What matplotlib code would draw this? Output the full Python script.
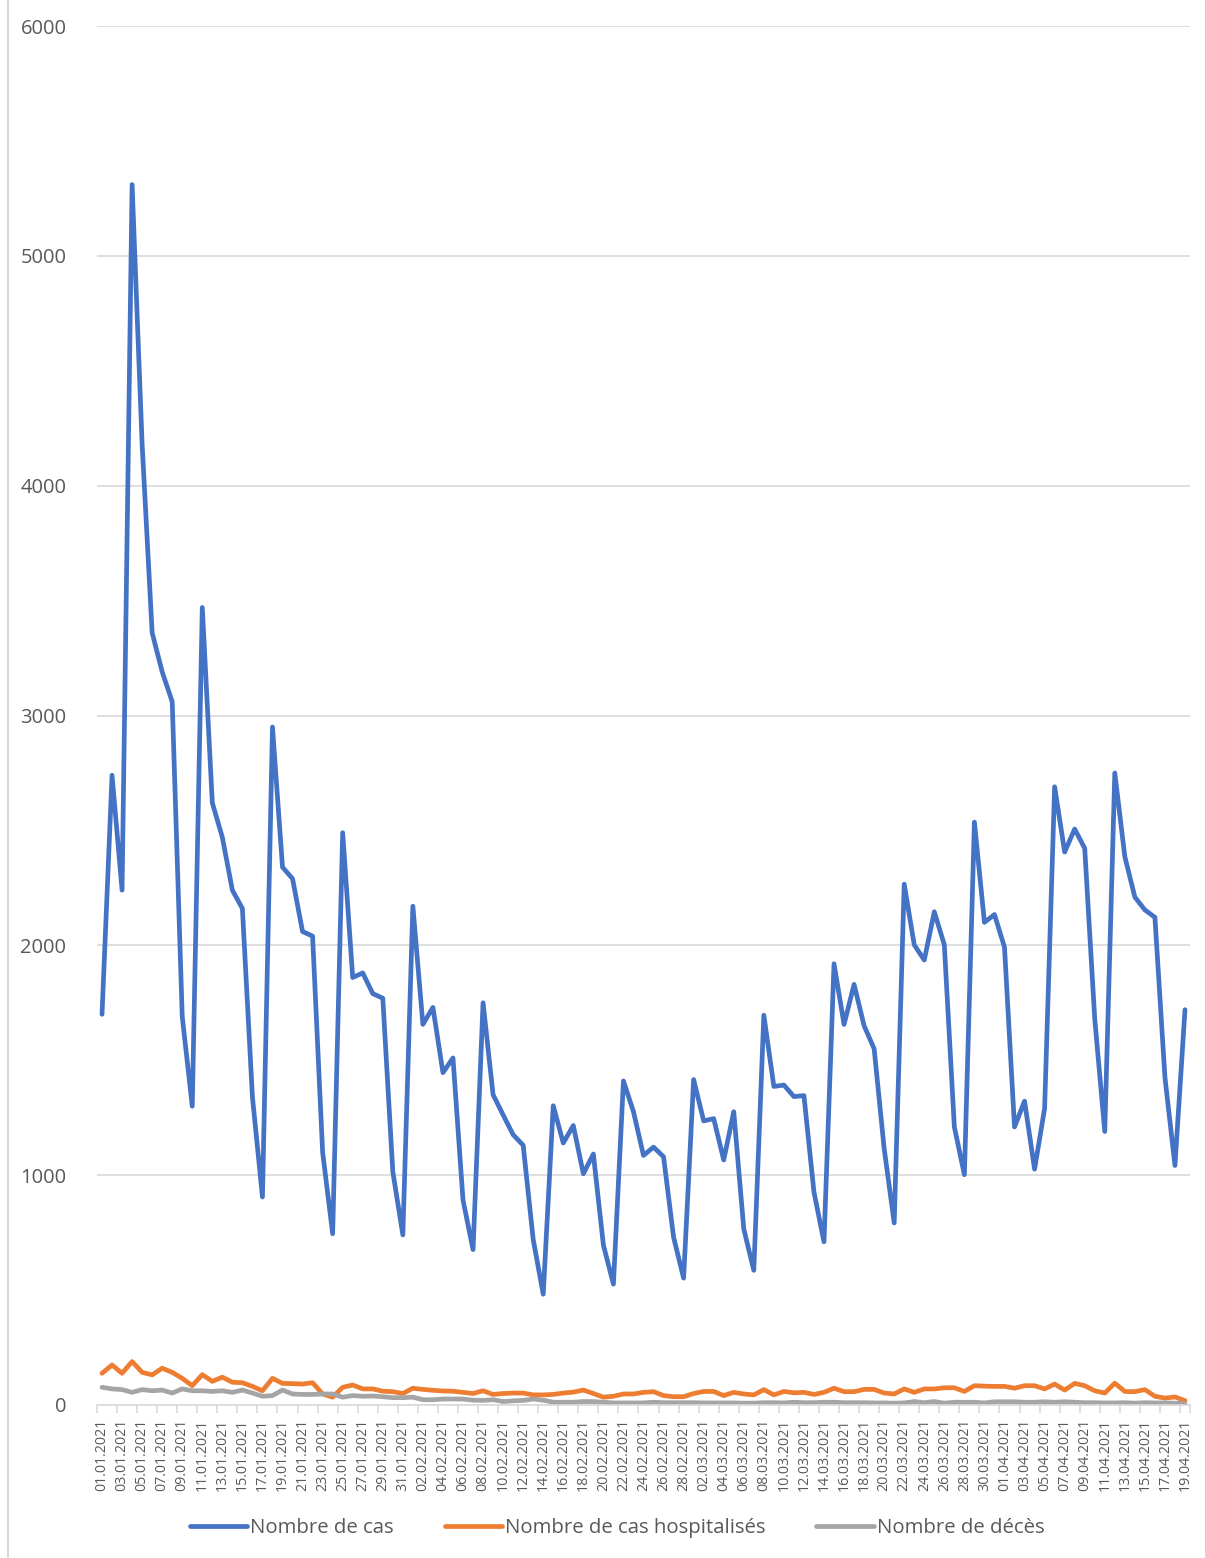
import pandas as pd
import matplotlib.pyplot as plt
from matplotlib.lines import Line2D

plt.rcParams['font.family'] = ['Open Sans', 'DejaVu Sans']

DATES = pd.date_range("2021-01-01", "2021-04-19", freq="D").strftime("%d.%m.%Y").tolist()

CAS = [
    1700, 2740, 2240, 5310, 4180, 3360, 3190, 3060, 1690, 1300,
    3470, 2620, 2470, 2240, 2160, 1340, 905, 2950, 2340, 2290,
    2060, 2040, 1100, 745, 2490, 1860, 1880, 1790, 1770, 1015,
    740, 2170, 1656, 1730, 1446, 1510, 892, 676, 1750, 1350,
    1262, 1176, 1130, 720, 482, 1302, 1140, 1216, 1006, 1092,
    696, 526, 1410, 1276, 1086, 1122, 1080, 730, 552, 1416,
    1236, 1246, 1066, 1276, 766, 586, 1696, 1386, 1392, 1342,
    1346, 926, 710, 1920, 1656, 1830, 1650, 1550, 1116, 792,
    2266, 2002, 1936, 2146, 2002, 1210, 1002, 2536, 2100, 2134,
    1992, 1210, 1322, 1026, 1290, 2690, 2406, 2506, 2422, 1680,
    1190, 2750, 2386, 2210, 2154, 2122, 1426, 1042, 1720,
]

HOSPITALISES = [
    138, 174, 138, 189, 142, 131, 160, 142, 116, 84,
    132, 103, 121, 99, 97, 81, 62, 116, 94, 93,
    91, 97, 48, 34, 77, 87, 70, 70, 60, 58,
    50, 73, 68, 64, 61, 60, 55, 50, 62, 46,
    50, 52, 52, 44, 44, 46, 52, 56, 65, 50,
    34, 38, 48, 48, 55,
    58, 41, 36, 36, 50, 59, 59, 41, 55, 48,
    44, 67, 44, 59, 53, 55, 46, 55, 73, 58,
    58, 68, 68, 52, 48, 70, 55, 70, 70, 75,
    75, 59, 84, 82, 81, 81, 73, 84, 84, 70,
    91, 65, 94, 84, 62, 52, 95, 59, 58, 67,
    38, 30, 35, 19,
]

DECES = [
    77, 70, 67, 55, 67, 62, 65, 52, 70, 62,
    62, 59, 62, 55, 65, 52, 38, 41, 65, 48,
    46, 46, 48, 48, 34, 41, 38, 39, 36, 32,
    32, 34, 23, 23, 26, 26, 26, 21, 20, 23,
    15, 18, 20, 26, 21, 12, 12, 12, 15, 15,
    12, 9, 9, 9, 9,
    12, 10, 10, 10, 10, 9, 9, 9, 9, 8,
    8, 10, 10, 9, 12, 10, 10, 12, 12, 10,
    10, 10, 9, 9, 8, 9, 15, 10, 15, 8,
    12, 12, 12, 9, 14, 14, 14, 12, 12, 14,
    12, 14, 12, 10, 10, 9, 9, 10, 8, 10,
    9, 9, 8, 6,
]

SERIES = [
    ("Nombre de cas", CAS, "#4472C4"),
    ("Nombre de cas hospitalisés", HOSPITALISES, "#ED7D31"),
    ("Nombre de décès", DECES, "#A5A5A5"),
]

GRID = "#D9D9D9"
TXT = "#595959"

fig = plt.figure(figsize=(12.05, 15.58), dpi=100)
ax = fig.add_axes([97 / 1205, 1 - 1405 / 1558, 1093 / 1205, 1379 / 1558])

x = list(range(len(DATES)))
for name, values, color in SERIES:
    ax.plot(x, values, color=color, lw=3.4, solid_capstyle="round",
            solid_joinstyle="round", label=name)

ax.set_xlim(-0.5, len(DATES) - 0.5)
ax.set_ylim(0, 6000)
ax.set_yticks(range(0, 6001, 1000))
ax.grid(axis="y", color=GRID, lw=1.2)
ax.set_axisbelow(True)

for side in ["top", "right", "left"]:
    ax.spines[side].set_visible(False)
ax.spines["bottom"].set_color(GRID)
ax.spines["bottom"].set_linewidth(1.2)

# labels every 2 days, tick marks between categories
ax.set_xticks(x[::2])
ax.set_xticklabels(DATES[::2], rotation=90, fontsize=10.3, color=TXT)
ax.set_xticks([i - 0.5 for i in x[::2]] + [len(DATES) - 0.5], minor=True)
ax.tick_params(axis="x", which="major", length=0, pad=10)
ax.tick_params(axis="x", which="minor", length=6, color=GRID, width=1.2)
ax.tick_params(axis="y", length=0, pad=22, labelsize=14.5, labelcolor=TXT)

handles = [Line2D([], [], color=c, lw=3.4, solid_capstyle="round") for _, _, c in SERIES]
fig.legend(handles, [n for n, _, _ in SERIES], loc="center",
           bbox_to_anchor=(617 / 1205, 1 - 1528 / 1558), ncol=3, frameon=False,
           fontsize=14.7, labelcolor=TXT, handlelength=2.8, handletextpad=0.15,
           columnspacing=2.5)

# left border of the original picture
fig.add_artist(Line2D([8 / 1205, 8 / 1205], [0, 1], color=GRID, lw=1.5,
                      transform=fig.transFigure))

fig.savefig("out.png", dpi=100)
